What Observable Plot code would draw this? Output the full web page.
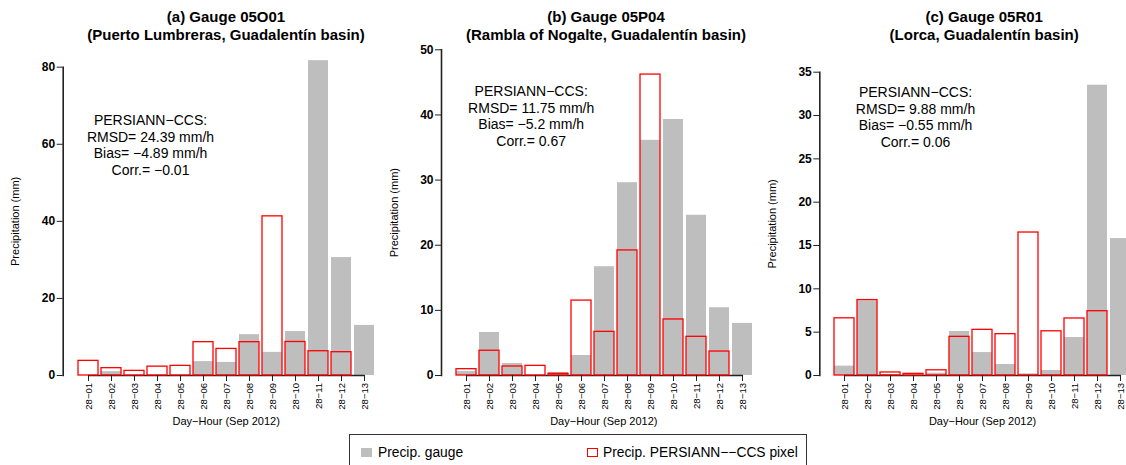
<!DOCTYPE html>
<html><head><meta charset="utf-8">
<script src="https://cdn.jsdelivr.net/npm/d3@7"></script>
<script src="https://cdn.jsdelivr.net/npm/@observablehq/plot@0.6"></script>
<style>
html,body{margin:0;padding:0;overflow:hidden;background:#fff;}
#root{position:relative;width:1126px;height:465px;font-family:"Liberation Sans",Arial,Helvetica,sans-serif;color:#000;overflow:hidden;}
.panel{position:absolute;top:0;height:465px;}
.title{position:absolute;width:440px;text-align:center;font-weight:bold;font-size:15px;line-height:18.4px;top:8px;white-space:nowrap;}
.legend{position:absolute;left:349px;top:434px;width:458px;height:40px;border:1px solid #333;box-sizing:border-box;font-size:13.8px;}
.legend .sw{position:absolute;top:12.5px;width:11px;height:9px;box-sizing:border-box;}
.legend span{position:absolute;top:10.5px;line-height:14px;white-space:nowrap;}
</style></head><body><div id="root"></div>
<script>
const hours = ["28−01","28−02","28−03","28−04","28−05","28−06","28−07","28−08","28−09","28−10","28−11","28−12","28−13"];

const gaugeA = [0, 1.0, 0, 0, 0, 3.6, 3.4, 10.6, 6.0, 11.4, 81.7, 30.6, 13.0];
const pixelA = [3.8, 1.9, 1.2, 2.3, 2.5, 8.65, 6.9, 8.65, 41.3, 8.7, 6.3, 6.05, 0];
const gaugeB = [0.6, 6.6, 1.84, 0, 0.46, 3.07, 16.7, 29.6, 36.1, 39.3, 24.6, 10.4, 8.0];
const pixelB = [0.97, 3.8, 1.38, 1.48, 0.26, 11.5, 6.7, 19.2, 46.2, 8.6, 5.94, 3.68, 0];
const gaugeC = [1.08, 8.6, 0.1, 0, 0.27, 5.08, 2.65, 1.27, 0.19, 0.58, 4.38, 33.5, 15.8];
const pixelC = [6.6, 8.7, 0.35, 0.19, 0.6, 4.46, 5.27, 4.77, 16.5, 5.1, 6.58, 7.42, 0];

const ticksA = [0, 20, 40, 60, 80];
const ticksB = [0, 10, 20, 30, 40, 50];
const ticksC = [0, 5, 10, 15, 20, 25, 30, 35];

const titlesA = ["(a) Gauge 05O01", "(Puerto Lumbreras, Guadalentín basin)"];
const titlesB = ["(b) Gauge 05P04", "(Rambla of Nogalte, Guadalentín basin)"];
const titlesC = ["(c) Gauge 05R01", "(Lorca, Guadalentín basin)"];

const statsA = ["PERSIANN−CCS:", "RMSD= 24.39 mm/h", "Bias= −4.89 mm/h", "Corr.= −0.01"];
const statsB = ["PERSIANN−CCS:", "RMSD= 11.75 mm/h", "Bias= −5.2 mm/h", "Corr.= 0.67"];
const statsC = ["PERSIANN−CCS:", "RMSD= 9.88 mm/h", "Bias= −0.55 mm/h", "Corr.= 0.06"];

const yLabel = "Precipitation (mm)";
const xLabel = "Day−Hour (Sep 2012)";
const legendLabels = ["Precip. gauge", "Precip. PERSIANN−−CCS pixel"];

const FONT = '"Liberation Sans", Arial, Helvetica, sans-serif';

const panels = [
  {left:0, width:380, axisX:62.7, top:66.7, range:[73.27,378.4], ticks:ticksA, gauge:gaugeA, pixel:pixelA,
   titles:titlesA, titleX:226, stats:statsA, statDx:87.3, statDy:77.3, xlabDx:4.3, ylabDx:-47.7},
  {left:380, width:380, axisX:61, top:49.3, range:[70.94,376.76], ticks:ticksB, gauge:gaugeB, pixel:pixelB,
   titles:titlesB, titleX:606, stats:statsB, statDx:89.7, statDy:65.7, xlabDx:2.8, ylabDx:-47},
  {left:760, width:366, axisX:59.3, top:71.7, range:[69.24,375.06], ticks:ticksC, gauge:gaugeC, pixel:pixelC,
   titles:titlesC, titleX:984.2, stats:statsC, statDx:95.7, statDy:44.6, xlabDx:9.4, ylabDx:-47.6}
];

const root = document.getElementById("root");

for (const p of panels) {
  const data = hours.map((h, i) => ({hour: h, gauge: p.gauge[i], pixel: p.pixel[i]}));
  const ends = [{hour: hours[0], v: 0}, {hour: hours[hours.length - 1], v: 0}];
  const chart = Plot.plot({
    width: p.width, height: 465,
    marginLeft: p.axisX, marginRight: 0, marginTop: p.top, marginBottom: 90,
    x: {domain: hours, range: p.range, paddingInner: 0.15, paddingOuter: 0.075},
    y: {domain: [0, p.ticks[p.ticks.length - 1]]},
    style: {background: "transparent", overflow: "visible", fontFamily: FONT, color: "#000"},
    marks: [
      Plot.barY(data, {x: "hour", y: "gauge", fill: "#bebebe"}),
      Plot.line(ends, {x: "hour", y: "v", stroke: "#222", strokeWidth: 1.3}),
      Plot.barY(data.filter(d => d.pixel > 0), {x: "hour", y: "pixel", fill: "none", stroke: "#ff0000", strokeWidth: 1.3}),
      Plot.axisX({tickSize: 6, tickPadding: 1.5, tickRotate: -90, fontSize: 9.5, label: null, stroke: "#222"}),
      Plot.axisY({ticks: p.ticks, tickSize: 6, tickPadding: 2, fontSize: 12, fontWeight: "bold", label: null, stroke: "#222"}),
      Plot.frame({anchor: "left", stroke: "#222", strokeWidth: 1.6}),
      Plot.text([p.stats.join("\n")], {frameAnchor: "top-left", dx: p.statDx, dy: p.statDy, textAnchor: "middle", lineAnchor: "middle", fontSize: 14, lineHeight: 1.19}),
      Plot.text([yLabel], {frameAnchor: "left", rotate: -90, dx: p.ylabDx, textAnchor: "middle", lineAnchor: "middle", fontSize: 11}),
      Plot.text([xLabel], {frameAnchor: "bottom", dx: p.xlabDx, dy: 45.7, textAnchor: "middle", lineAnchor: "middle", fontSize: 11})
    ]
  });
  const div = document.createElement("div");
  div.className = "panel";
  div.style.left = p.left + "px";
  div.style.width = p.width + "px";
  div.appendChild(chart);
  root.appendChild(div);

  const t = document.createElement("div");
  t.className = "title";
  t.style.left = (p.titleX - 220) + "px";
  t.innerHTML = p.titles.map(s => `<div>${s}</div>`).join("");
  root.appendChild(t);
}

const leg = document.createElement("div");
leg.className = "legend";
leg.innerHTML = `<div class="sw" style="left:11px;background:#bebebe"></div>
<span style="left:28px">${legendLabels[0]}</span>
<div class="sw" style="left:237px;border:1.2px solid #ff0000;background:#fff"></div>
<span style="left:253px">${legendLabels[1]}</span>`;
root.appendChild(leg);
</script>
</body></html>
